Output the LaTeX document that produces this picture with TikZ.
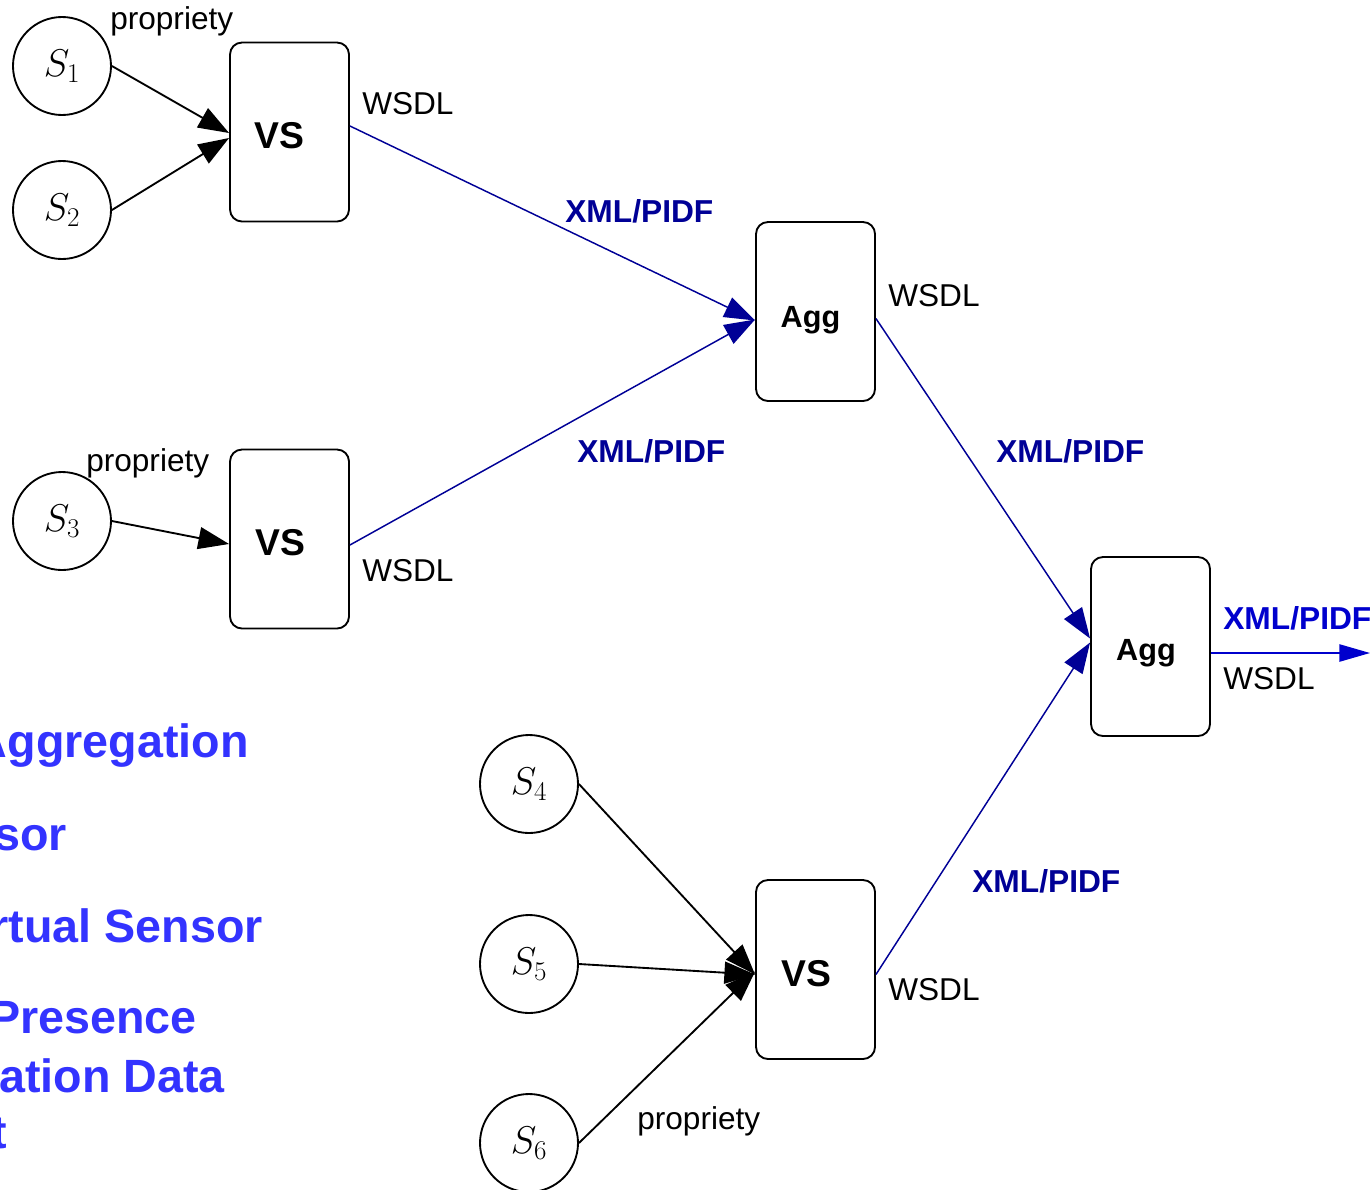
\RequirePackage{fix-cm}
\documentclass[tikz,border=0pt]{standalone}
\usepackage{fontspec}
\setmainfont{Liberation Sans}
\usetikzlibrary{arrows.meta,calc}
\definecolor{navyc}{RGB}{0,0,150}
\definecolor{brightb}{RGB}{0,0,205}
\definecolor{legendb}{RGB}{51,51,255}
\tikzset{
  sensor/.style={circle,draw,line width=1.4pt,minimum size=73.5pt,inner sep=0pt,font=\fontsize{29}{33}\selectfont},
  vsbox/.style={draw,rounded corners=9pt,line width=1.4pt,minimum width=89.25pt,minimum height=134.25pt,inner sep=0pt},
  vstext/.style={font=\fontsize{28}{32}\selectfont\bfseries,inner sep=0pt},
  aggtext/.style={font=\fontsize{23}{27}\selectfont\bfseries,inner sep=0pt},
  blk/.style={line width=1.4pt,-{Triangle[length=23pt,width=16.5pt]}},
  nav/.style={navyc,line width=1.1pt,-{Triangle[length=23pt,width=16pt]}},
  bri/.style={brightb,line width=1.1pt,-{Triangle[length=23pt,width=13pt]}},
  lbl/.style={font=\fontsize{23.7}{27}\selectfont,inner sep=0pt,anchor=base west},
  xlbl/.style={font=\fontsize{23.8}{27}\selectfont\bfseries,inner sep=0pt,anchor=base west,text=navyc},
  legend/.style={font=\fontsize{35}{40}\selectfont\bfseries,inner sep=0pt,anchor=base east,text=legendb}
}
\begin{document}
\begin{tikzpicture}[x=0.75pt,y=-0.75pt]
\useasboundingbox (0,0) rectangle (1370,1189);
% sensors
\node[sensor] (s1) at (62,66) {$S_1$};
\node[sensor] (s2) at (62,210) {$S_2$};
\node[sensor] (s3) at (62,521) {$S_3$};
\node[sensor] (s4) at (529,784) {$S_4$};
\node[sensor] (s5) at (529,964) {$S_5$};
\node[sensor] (s6) at (529,1143) {$S_6$};
% boxes
\node[vsbox] (vs1) at (289.5,132) {};
\node[vsbox] (vs2) at (289.5,539) {};
\node[vsbox] (vs3) at (815.5,969.5) {};
\node[vsbox] (agg1) at (815.5,311.5) {};
\node[vsbox] (agg2) at (1150.5,646.5) {};
\node[vstext] (vs1t) at ($(vs1)+(-10,3.5)$) {VS};
\node[vstext] (vs2t) at ($(vs2)+(-9.5,4)$) {VS};
\node[vstext] (vs3t) at ($(vs3)+(-9.5,4.5)$) {VS};
\node[aggtext] (agg1t) at ($(agg1)+(-5,9)$) {Agg};
\node[aggtext] (agg2t) at ($(agg2)+(-4.5,7)$) {Agg};
\coordinate (out) at (1370,653);
% black connectors
\draw[blk] (s1.east) -- ($(vs1.west)+(0,1)$);
\draw[blk] (s2.east) -- ($(vs1.west)+(0,6)$);
\draw[blk] (s3.east) -- ($(vs2.west)+(0,5)$);
\draw[blk] (s4.east) -- ($(vs3.west)+(0,5)$);
\draw[blk] (s5.east) -- ($(vs3.west)+(0,5)$);
\draw[blk] (s6.east) -- ($(vs3.west)+(0,2)$);
% blue connectors
\draw[nav] ($(vs1.east)+(0,-6)$) -- ($(agg1.west)+(0,9)$);
\draw[nav] ($(vs2.east)+(0,6)$) -- ($(agg1.west)+(0,8)$);
\draw[nav] ($(agg1.east)+(0,7)$) -- ($(agg2.west)+(0,-8)$);
\draw[nav] ($(vs3.east)+(0,5)$) -- ($(agg2.west)+(0,-4)$);
\draw[bri] ($(agg2.east)+(0,6.5)$) -- (out);
% labels
\node[lbl] (p1) at (110,29) {propriety};
\node[lbl] (p2) at (86,471) {propriety};
\node[lbl] (p3) at (637,1129) {propriety};
\node[lbl] (w1) at (362,114) {WSDL};
\node[lbl] (w2) at (362,581) {WSDL};
\node[lbl] (w3) at (888,306) {WSDL};
\node[lbl] (w4) at (888,1000) {WSDL};
\node[lbl] (w5) at (1223,689) {WSDL};
\node[xlbl] (x1) at (565,222) {XML/PIDF};
\node[xlbl] (x2) at (577,462) {XML/PIDF};
\node[xlbl] (x3) at (996,462) {XML/PIDF};
\node[xlbl] (x4) at (972,892) {XML/PIDF};
\node[xlbl,text=brightb] (x5) at (1223,629) {XML/PIDF};
% legend (cut by the left edge, as in the reference)
\node[legend] (l1) at (249,757) {Aggregation};
\node[legend] (l2) at (67,850) {sor};
\node[legend] (l3) at (263,942) {rtual Sensor};
\node[legend] (l4) at (197,1033) {Presence};
\node[legend] (l5) at (225,1092) {ation Data};
\node[legend] (l6) at (7,1148) {t};
\end{tikzpicture}
\end{document}
